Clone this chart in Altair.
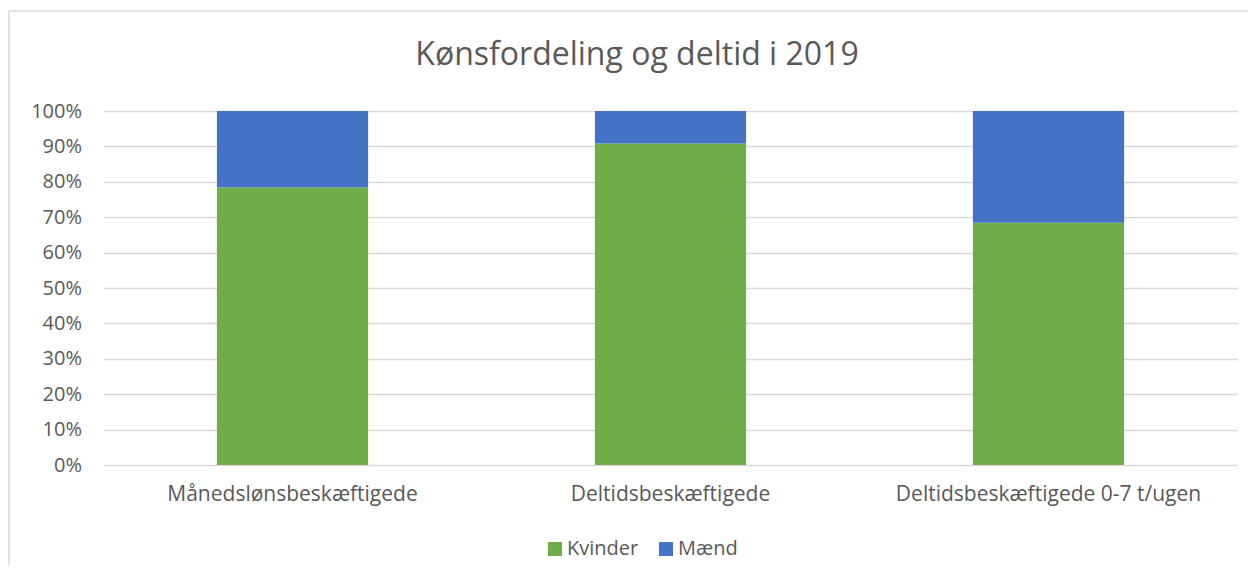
import altair as alt
import pandas as pd

categories = ["Månedslønsbeskæftigede", "Deltidsbeskæftigede", "Deltidsbeskæftigede 0-7 t/ugen"]
kvinder = [0.784, 0.908, 0.684]
maend = [0.216, 0.092, 0.316]
series = ["Kvinder", "Mænd"]
colors = ["#70AD47", "#4472C4"]

rows = []
for c, k, m in zip(categories, kvinder, maend):
    rows.append({"kategori": c, "køn": "Kvinder", "andel": k, "ord": 0})
    rows.append({"kategori": c, "køn": "Mænd", "andel": m, "ord": 1})
df = pd.DataFrame(rows)

FONT = "Open Sans"
GREY = "#595959"

bars = alt.Chart(df).mark_bar().encode(
    x=alt.X("kategori:N", sort=categories, title=None,
            scale=alt.Scale(paddingInner=0.6, paddingOuter=0.3),
            axis=alt.Axis(labelAngle=0, labelFont=FONT, labelFontSize=21, labelColor=GREY,
                          labelLimit=0, ticks=False, tickSize=0, labelPadding=18,
                          domain=False, grid=False)),
    y=alt.Y("andel:Q", stack="zero", title=None,
            scale=alt.Scale(domain=[0, 1], nice=False),
            axis=alt.Axis(format=".0%", values=[i / 10 for i in range(11)],
                          labelFont=FONT, labelFontSize=20, labelColor=GREY,
                          ticks=False, tickSize=0, labelPadding=22, domain=False,
                          grid=True, gridColor="#D9D9D9", gridWidth=1.5)),
    color=alt.Color("køn:N", scale=alt.Scale(domain=series, range=colors), title=None,
                    legend=alt.Legend(orient="none", direction="horizontal",
                                      legendX=441.5, legendY=428,
                                      symbolType="square", symbolSize=196,
                                      symbolStrokeWidth=0, labelFont=FONT, labelFontSize=20,
                                      labelColor=GREY, labelOffset=2, columnPadding=17)),
    order=alt.Order("ord:Q", sort="ascending"),
)

title = alt.Chart(pd.DataFrame({"t": ["Kønsfordeling og deltid i 2019"]})).mark_text(
    font=FONT, fontSize=32, color=GREY, align="center", baseline="middle"
).encode(text="t:N", x=alt.value(533.5), y=alt.value(-56))

border = alt.Chart(pd.DataFrame({"a": [0]})).mark_rule(color="#D9D9D9", strokeWidth=1.5).encode(
    x=alt.value(-94.5), x2=alt.value(1150), y=alt.value(-100)
)
border_left = alt.Chart(pd.DataFrame({"a": [0]})).mark_rule(color="#D9D9D9", strokeWidth=1.5).encode(
    x=alt.value(-94.5), y=alt.value(-100), y2=alt.value(470)
)

chart = alt.layer(border, border_left, bars, title).properties(
    width=1134, height=354,
    autosize=alt.AutoSizeParams(type="none"),
    padding={"left": 95.5, "top": 103, "right": 10, "bottom": 100},
    background="white",
).configure_view(stroke=None)

chart.save("out.html", embed_options={"renderer": "svg", "actions": False})
